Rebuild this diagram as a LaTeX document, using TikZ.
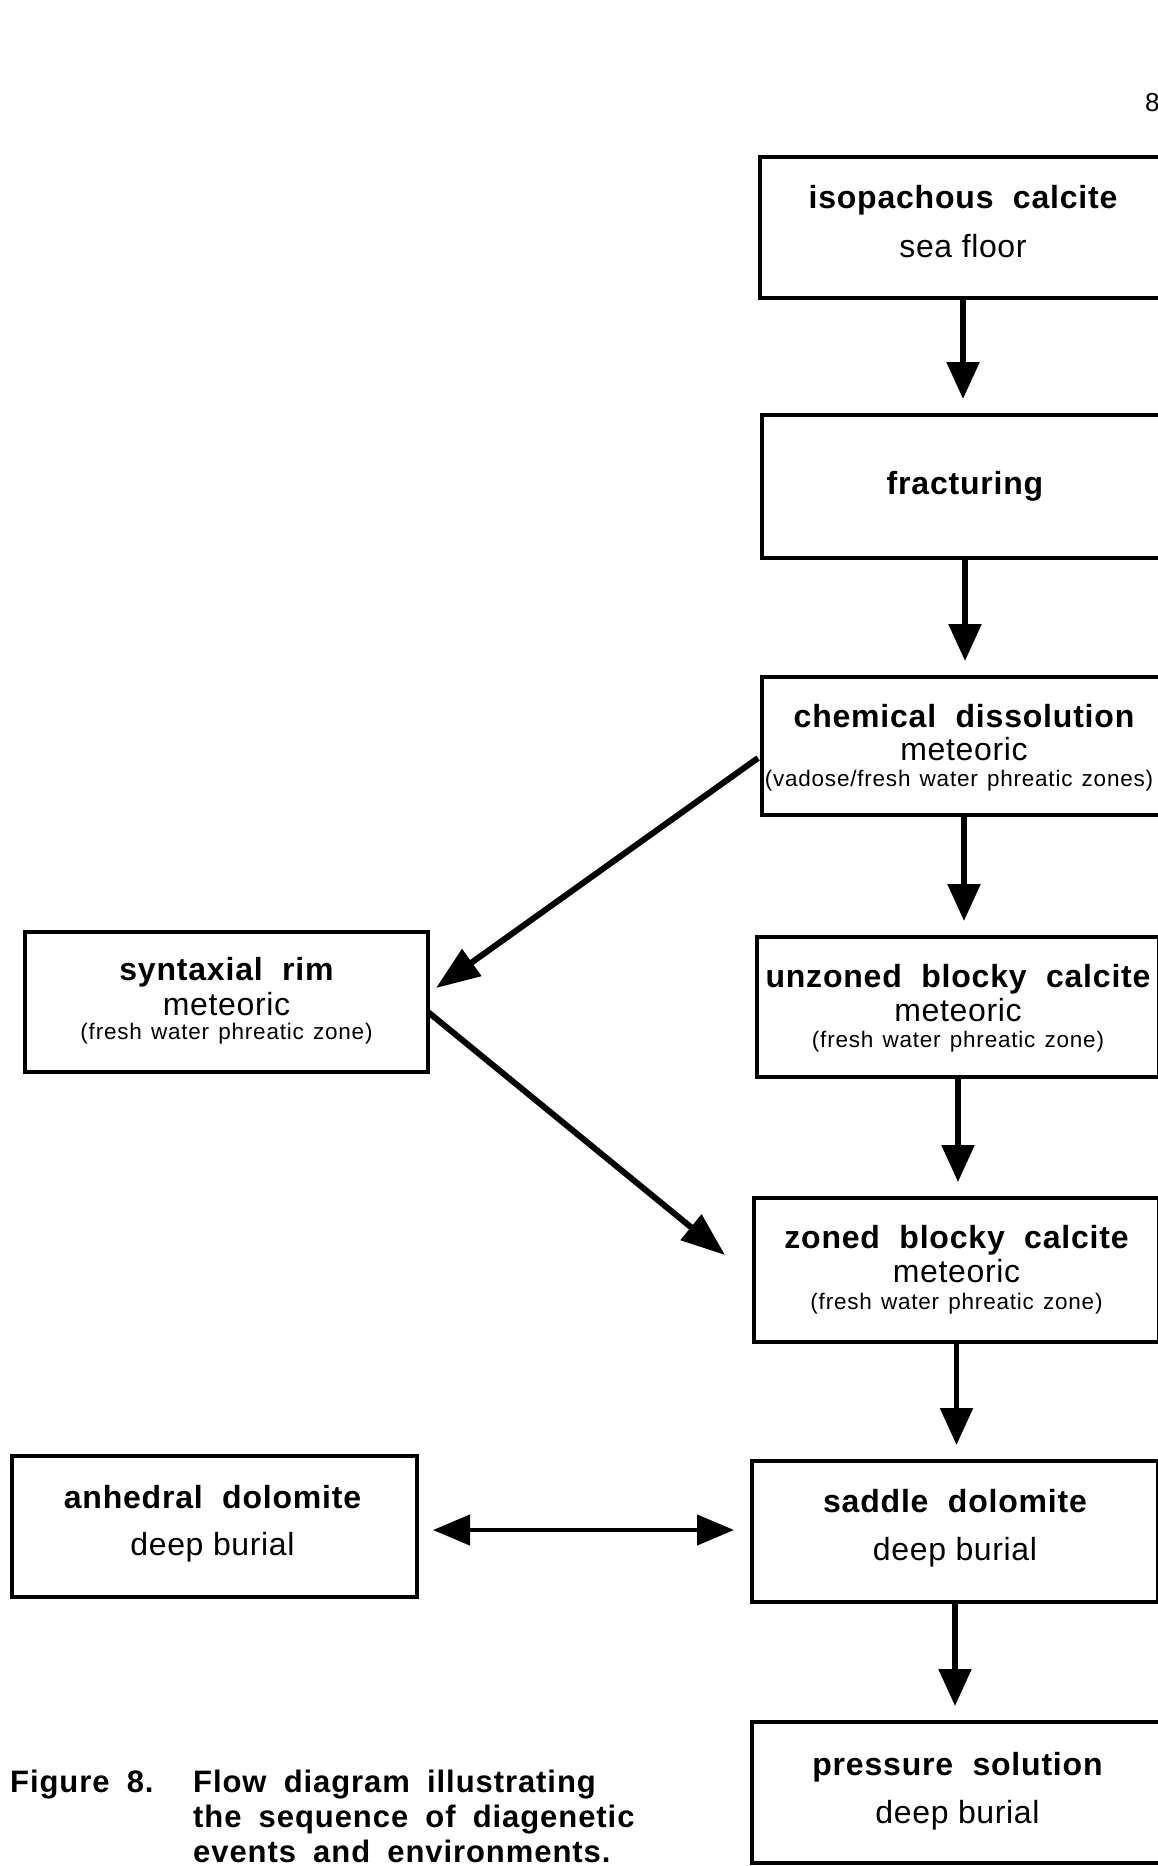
\documentclass[tikz,border=0pt]{standalone}
\usepackage{fontspec}
\setmainfont{Liberation Sans}
\newfontfamily\titlefont[LetterSpace=2.5,WordSpace=2]{Liberation Sans}
\newfontfamily\subfont[LetterSpace=2]{Liberation Sans}
\newfontfamily\smallfont[LetterSpace=3.5,WordSpace=1.3]{Liberation Sans}
\newfontfamily\capfont[LetterSpace=3,WordSpace=1.8]{Liberation Sans}
\usetikzlibrary{arrows.meta,calc}
\begin{document}
\begin{tikzpicture}[x=1pt,y=-1pt,
  box/.style={draw,line width=4.2pt,inner sep=0pt,outer sep=0pt},
  ttl/.style={anchor=base,inner sep=0pt,font=\titlefont\bfseries\fontsize{32}{38}\selectfont},
  sub/.style={anchor=base,inner sep=0pt,font=\subfont\fontsize{32}{38}\selectfont},
  sml/.style={anchor=base,inner sep=0pt,font=\smallfont\fontsize{22.5}{27}\selectfont},
  captxt/.style={anchor=base west,inner sep=0pt,font=\capfont\bfseries\fontsize{31}{35}\selectfont},
  arr/.style={line width=5.5pt,-{Triangle[length=37pt,width=32pt]},shorten >=16pt},
  diag/.style={line width=6pt,-{Triangle[length=44pt,width=32pt]}},
  dbl/.style={line width=4.5pt,{Triangle[length=37pt,width=30pt]}-{Triangle[length=37pt,width=30pt]}}
]
\useasboundingbox (0,0) rectangle (1158,1866);
\clip (0,0) rectangle (1158,1866);

% page number (cut off at the right edge)
\node[anchor=base west,inner sep=0pt,font=\fontsize{26}{30}\selectfont] (pg) at (1145,111) {8};

% boxes
\node[box,minimum width=406pt,minimum height=141pt] (iso) at (963,227.5) {};
\node[box,minimum width=406pt,minimum height=143pt] (frac) at (965,486.5) {};
\node[box,minimum width=404pt,minimum height=138pt] (chem) at (964,746) {};
\node[box,minimum width=403pt,minimum height=140pt] (syn) at (226.5,1002) {};
\node[box,minimum width=402pt,minimum height=140pt] (unz) at (958,1007) {};
\node[box,minimum width=405pt,minimum height=144pt] (zon) at (956.5,1270) {};
\node[box,minimum width=405pt,minimum height=141pt] (anh) at (214.5,1526.5) {};
\node[box,minimum width=406pt,minimum height=141pt] (sad) at (955,1531.5) {};
\node[box,minimum width=411pt,minimum height=141pt] (pre) at (957.5,1792.5) {};

% texts
\node[ttl] (isoT) at ($(iso.north)+(0,51)$) {isopachous calcite};
\node[sub] (isoS) at ($(iso.north)+(0,100)$) {sea floor};

\node[ttl] (fracT) at ($(frac.north)+(0,79)$) {fracturing};

\node[ttl] (chemT) at ($(chem.north)+(0,50)$) {chemical dissolution};
\node[sub] (chemS) at ($(chem.north)+(0,83)$) {meteoric};
\node[sml] (chemE) at ($(chem.north)+(-5,109)$) {(vadose/fresh water phreatic zones)};

\node[ttl] (synT) at ($(syn.north)+(0,48)$) {syntaxial rim};
\node[sub] (synS) at ($(syn.north)+(0,83)$) {meteoric};
\node[sml] (synE) at ($(syn.north)+(0,107)$) {(fresh water phreatic zone)};

\node[ttl] (unzT) at ($(unz.north)+(0,50)$) {unzoned blocky calcite};
\node[sub] (unzS) at ($(unz.north)+(0,84)$) {meteoric};
\node[sml] (unzE) at ($(unz.north)+(0,110)$) {(fresh water phreatic zone)};

\node[ttl] (zonT) at ($(zon.north)+(0,50)$) {zoned blocky calcite};
\node[sub] (zonS) at ($(zon.north)+(0,84)$) {meteoric};
\node[sml] (zonE) at ($(zon.north)+(0,111)$) {(fresh water phreatic zone)};

\node[ttl] (anhT) at ($(anh.north)+(-2,52)$) {anhedral dolomite};
\node[sub] (anhS) at ($(anh.north)+(-2,99)$) {deep burial};

\node[ttl] (sadT) at ($(sad.north)+(0,51)$) {saddle dolomite};
\node[sub] (sadS) at ($(sad.north)+(0,99)$) {deep burial};

\node[ttl] (preT) at ($(pre.north)+(0,53)$) {pressure solution};
\node[sub] (preS) at ($(pre.north)+(0,101)$) {deep burial};

% connectors
\draw[arr] (iso.south) -- (iso.south |- frac.north);
\draw[arr] (frac.south) -- (frac.south |- chem.north);
\draw[arr] (chem.south) -- (chem.south |- unz.north);
\draw[arr] (unz.south) -- (unz.south |- zon.north);
\draw[arr] (zon.south) -- (zon.south |- sad.north);
\draw[arr] (sad.south) -- (sad.south |- pre.north);

\draw[diag] ($(chem.west)+(-4,12)$) -- ($(syn.east)+(8,-14)$);
\draw[diag] ($(syn.east)+(0,10)$) -- ($(zon.west)+(-29,-15)$);
\draw[dbl] ($(anh.east)+(16,3.5)$) -- ($(sad.west)+(-18,-1.5)$);

% caption
\node[captxt] (fig) at (10,1792) {Figure 8.};
\node[captxt] (cap1) at (193,1792) {Flow diagram illustrating};
\node[captxt] (cap2) at (193,1827) {the sequence of diagenetic};
\node[captxt] (cap3) at (193,1862) {events and environments.};
\end{tikzpicture}
\end{document}
